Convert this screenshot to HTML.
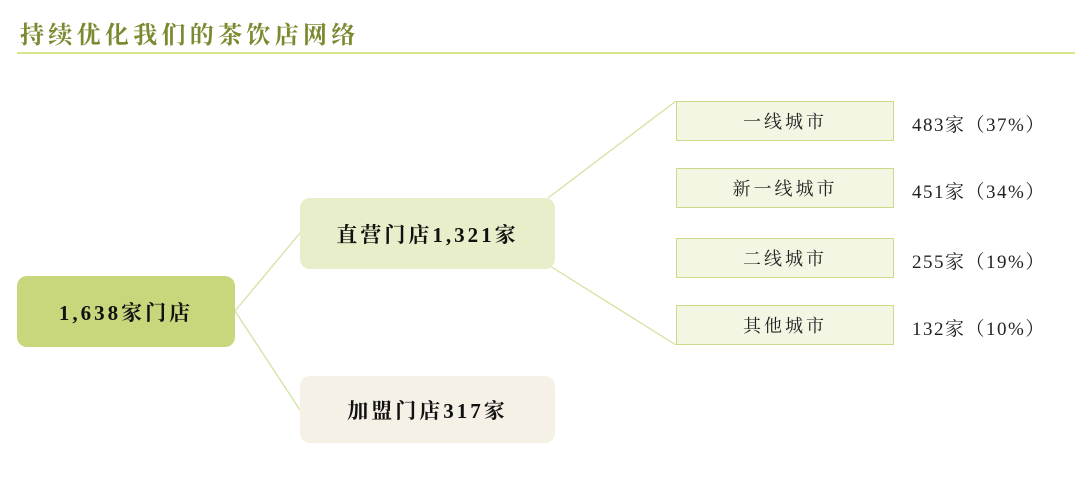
<!DOCTYPE html>
<html><head><meta charset="utf-8"><style>
body{margin:0;width:1080px;height:500px;background:#fff;position:relative;overflow:hidden;font-family:"Liberation Serif","Noto Serif CJK SC",serif;}
.a{position:absolute;display:flex;align-items:center;justify-content:center;box-sizing:border-box;}
.t{position:absolute;left:20px;top:15px;font-size:24px;font-weight:bold;color:#7a8a30;letter-spacing:4.3px;font-family:"Liberation Serif","Noto Serif CJK SC",serif;}
.r{border-radius:10px;font-weight:bold;font-size:21px;color:#111;letter-spacing:3px;}
.c{left:676px;width:218px;height:40px;background:#f2f6e3;border:1px solid #c8dc8a;font-size:18px;letter-spacing:3px;color:#222;}
.v{position:absolute;left:912px;font-size:19px;color:#222;letter-spacing:1.5px;}
</style></head><body>
<div class="t">持续优化我们的茶饮店网络</div>
<div style="position:absolute;left:17px;top:52px;width:1058px;height:2px;background:#d4e68a"></div>
<svg width="1080" height="500" style="position:absolute;left:0;top:0">
<g stroke="#d4e2a0" stroke-width="1.3" fill="none">
<line x1="235" y1="311" x2="300" y2="233"/>
<line x1="235" y1="311" x2="300" y2="410"/>
<line x1="548" y1="198" x2="676" y2="101"/>
<line x1="550" y1="266" x2="676" y2="345"/>
</g></svg>
<div class="a r" style="left:17px;top:276px;width:218px;height:71px;background:#c8d67c">1,638家门店</div>
<div class="a r" style="left:300px;top:198px;width:255px;height:71px;background:#e7eec9">直营门店1,321家</div>
<div class="a r" style="left:300px;top:376px;width:255px;height:67px;background:#f6f1e6">加盟门店317家</div>
<div class="a c" style="top:101px">一线城市</div>
<div class="a c" style="top:168px">新一线城市</div>
<div class="a c" style="top:238px">二线城市</div>
<div class="a c" style="top:305px">其他城市</div>
<div class="v" style="top:110px">483家（37%）</div>
<div class="v" style="top:177px">451家（34%）</div>
<div class="v" style="top:247px">255家（19%）</div>
<div class="v" style="top:314px">132家（10%）</div>
</body></html>
